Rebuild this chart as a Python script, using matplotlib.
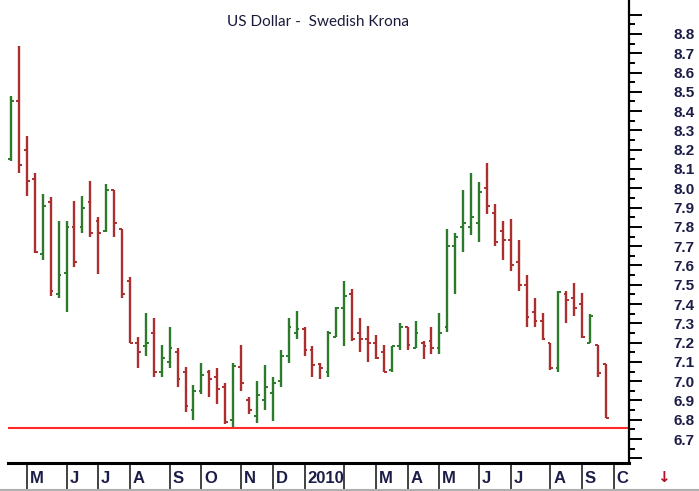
import numpy as np
import matplotlib
matplotlib.use('Agg')
import matplotlib.pyplot as plt

# weekly OHLC, USD/SEK, Apr 2009 - Oct 2010
opens = [8.15, 8.45, 8.20, 8.05, 7.66, 7.93, 7.45, 7.56, 7.80, 7.80,
         7.93, 7.83, 7.78, 7.99, 7.79, 7.52, 7.20, 7.18, 7.25, 7.05,
         7.10, 7.15, 7.05, 6.85, 6.95, 7.05, 7.02, 6.97, 6.80, 7.075,
         6.90, 6.82, 6.90, 6.94, 7.00, 7.13, 7.25, 7.27, 7.16, 7.09,
         7.05, 7.23, 7.38, 7.45, 7.25, 7.22, 7.20, 7.15, 7.06, 7.18,
         7.28, 7.17, 7.20, 7.21, 7.17, 7.28, 7.70, 7.80, 7.80, 7.82,
         8.00, 7.87, 7.78, 7.73, 7.62, 7.50, 7.36, 7.31, 7.20, 7.07,
         7.45, 7.43, 7.40, 7.20, 7.19, 7.09]
highs = [8.48, 8.74, 8.27, 8.08, 7.97, 7.955, 7.83, 7.83, 7.935, 7.96,
         8.04, 7.85, 8.02, 7.99, 7.79, 7.54, 7.23, 7.355, 7.33, 7.19,
         7.28, 7.17, 7.075, 6.98, 7.095, 7.06, 7.07, 6.99, 7.095, 7.19,
         6.92, 7.00, 7.085, 7.02, 7.16, 7.33, 7.365, 7.28, 7.18, 7.095,
         7.26, 7.385, 7.52, 7.48, 7.33, 7.285, 7.24, 7.19, 7.18, 7.30,
         7.28, 7.31, 7.21, 7.28, 7.355, 7.79, 7.77, 7.99, 8.08, 8.03,
         8.13, 7.92, 7.83, 7.84, 7.73, 7.55, 7.43, 7.355, 7.20, 7.47,
         7.47, 7.51, 7.455, 7.35, 7.19, 7.09]
lows = [8.14, 8.08, 7.96, 7.665, 7.63, 7.44, 7.43, 7.36, 7.59, 7.77,
        7.75, 7.556, 7.774, 7.75, 7.43, 7.20, 7.07, 7.13, 7.02, 7.02,
        7.07, 6.97, 6.84, 6.80, 6.935, 6.92, 6.883, 6.78, 6.765, 6.95,
        6.83, 6.785, 6.85, 6.795, 6.97, 7.095, 7.22, 7.13, 7.02, 7.01,
        7.02, 7.23, 7.18, 7.21, 7.15, 7.10, 7.115, 7.05, 7.05, 7.16,
        7.16, 7.17, 7.115, 7.14, 7.14, 7.256, 7.45, 7.67, 7.76, 7.72,
        7.867, 7.70, 7.63, 7.57, 7.47, 7.28, 7.28, 7.215, 7.06, 7.05,
        7.30, 7.34, 7.225, 7.20, 7.02, 6.81]
closes = [8.45, 8.12, 8.04, 7.67, 7.91, 7.47, 7.55, 7.80, 7.62, 7.90,
          7.77, 7.77, 7.99, 7.82, 7.45, 7.20, 7.15, 7.20, 7.05, 7.12,
          7.17, 7.01, 6.87, 6.95, 7.03, 7.01, 6.96, 6.79, 7.08, 6.99,
          6.85, 6.93, 6.97, 6.99, 7.13, 7.28, 7.27, 7.16, 7.085, 7.07,
          7.25, 7.38, 7.44, 7.22, 7.22, 7.20, 7.12, 7.05, 7.18, 7.28,
          7.19, 7.25, 7.18, 7.17, 7.25, 7.70, 7.75, 7.82, 7.85, 7.98,
          7.91, 7.72, 7.73, 7.60, 7.50, 7.335, 7.31, 7.22, 7.07, 7.46,
          7.42, 7.38, 7.23, 7.34, 7.04, 6.81]

# first week of each month
month_starts = [2, 7, 11, 15, 20, 24, 29, 33, 37, 42, 46, 50, 54, 59, 63, 68, 72, 76]
month_labels = ['M', 'J', 'J', 'A', 'S', 'O', 'N', 'D', '2010', '', 'M', 'A',
                'M', 'J', 'J', 'A', 'S', 'C']

support = 6.76

fig = plt.figure(figsize=(6.99, 4.91), dpi=100)
ax = fig.add_axes([8/699, 28/491, 621/699, 463/491])

x = np.arange(len(opens))
o = np.array(opens); h = np.array(highs); l = np.array(lows); c = np.array(closes)
cols = np.where(c >= o, '#2d7a2d', '#ab2f2f')

ax.vlines(x, l, h, colors=cols, lw=1.7)
ax.hlines(o, x - 0.35, x, colors=cols, lw=1.4)
ax.hlines(c, x, x + 0.35, colors=cols, lw=1.4)

ax.axhline(support, color='#ff2b2b', lw=1.5)

ax.set_xlim(-0.38, 77.9)
ax.set_ylim(6.576, 8.976)

# y axis on the right
ax.yaxis.tick_right()
yt = np.round(np.arange(6.6, 8.95, 0.1), 1)
ax.set_yticks(yt)
ax.set_yticklabels([f'{v:.1f}' if 6.65 < v < 8.85 else '' for v in yt],
                   fontsize=11, fontweight='bold', color='#1c1c48',
                   family='Liberation Sans')
ax.set_yticks(np.round(np.arange(6.65, 8.95, 0.1), 2), minor=True)
ax.tick_params(axis='y', which='major', length=9, width=1.4, pad=23,
               direction='out', right=True, left=False)
ax.tick_params(axis='y', which='minor', length=4.5, width=1.4,
               direction='out', right=True, left=False)
ax.set_xticks([])

for s in ['left', 'top']:
    ax.spines[s].set_visible(False)
ax.spines['right'].set_linewidth(1.6)
ax.spines['bottom'].set_linewidth(2.2)

# month boxes under the plot
tr = ax.get_xaxis_transform()
for i, lab in zip(month_starts, month_labels):
    ax.plot([i, i], [0, -0.065], transform=tr, color='#333333', lw=1.3,
            clip_on=False)
    ax.text(i + 0.35, -0.033, lab, transform=tr, ha='left', va='center',
            fontsize=12, fontweight='bold', color='#1c1c48',
            family='Liberation Sans', clip_on=False)

fig.add_artist(plt.Line2D([0, 1], [1.5/491, 1.5/491], color='#b0b0b0', lw=1.5))

fig.text(318/699, 1 - 22/491, 'US Dollar -  Swedish Krona', ha='center',
         va='center', fontsize=11, color='#1a1a3a', family='Lato')
fig.text(663/699, 1 - 478/491, '↓', ha='center', va='center', fontsize=11,
         fontweight='bold', color='#b0102a')

fig.savefig('out.png', dpi=100)
